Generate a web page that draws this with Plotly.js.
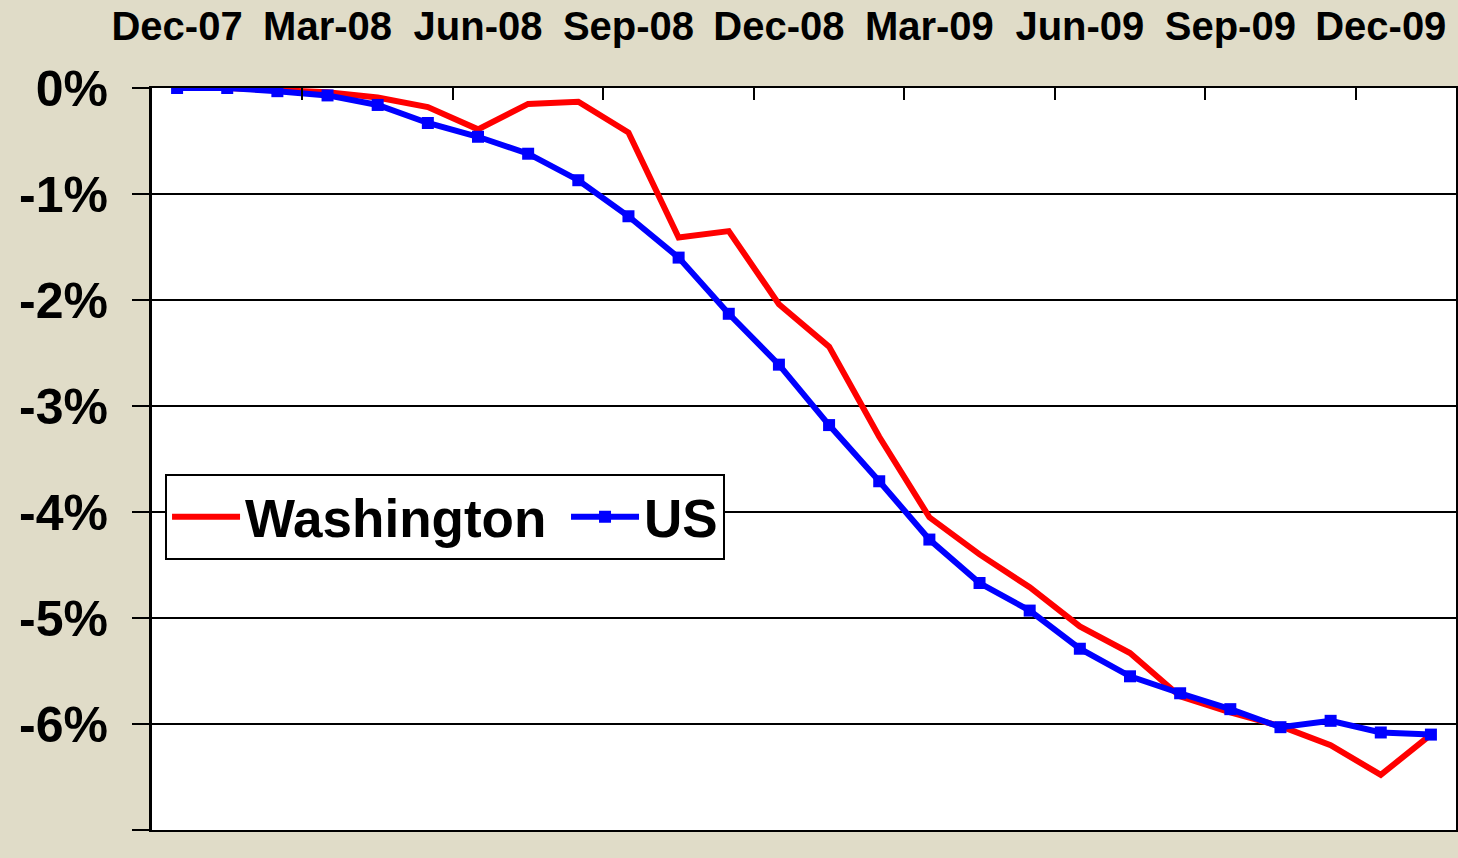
<!DOCTYPE html>
<html>
<head>
<meta charset="utf-8">
<script src="https://cdn.plot.ly/plotly-3.0.1.min.js"></script>
<style>
  html, body { margin: 0; padding: 0; background: #E0DCC8; }
  #chart { width: 1458px; height: 858px; }
</style>
</head>
<body>
<div id="chart"></div>
<script>
const months = ["Dec-07","Jan-08","Feb-08","Mar-08","Apr-08","May-08","Jun-08","Jul-08","Aug-08","Sep-08","Oct-08","Nov-08",
                "Dec-08","Jan-09","Feb-09","Mar-09","Apr-09","May-09","Jun-09","Jul-09","Aug-09","Sep-09","Oct-09","Nov-09",
                "Dec-09","Jan-10"];
const washington = [0, 0, -0.02, -0.04, -0.09, -0.18, -0.39, -0.15, -0.13, -0.42, -1.41, -1.35,
                    -2.04, -2.44, -3.29, -4.05, -4.40, -4.71, -5.08, -5.33, -5.74, -5.89, -6.02, -6.20,
                    -6.48, -6.10];
const us = [0, 0, -0.03, -0.07, -0.16, -0.33, -0.46, -0.62, -0.87, -1.21, -1.60, -2.13,
            -2.61, -3.18, -3.71, -4.26, -4.67, -4.93, -5.29, -5.55, -5.71, -5.86, -6.03, -5.97,
            -6.08, -6.10];
const xTickLabels = ["Dec-07","Mar-08","Jun-08","Sep-08","Dec-08","Mar-09","Jun-09","Sep-09","Dec-09"];
const yTickVals = [0, -1, -2, -3, -4, -5, -6, -7];
const yTickLabels = ["0%", "-1%", "-2%", "-3%", "-4%", "-5%", "-6%", "-7%"];

// month positions on the axis (one slot per month)
const xIndex = months.map((m, i) => i);
const xLabelPos = xTickLabels.map(m => months.indexOf(m));
// tick marks sit on the month boundary just before each labelled month (after the first)
const xBoundaryTicks = xLabelPos.slice(1).map(i => i - 0.5);

const font = "Liberation Sans, Arial, sans-serif";

const traces = [
  {
    x: xIndex, y: washington, name: "Washington\u00a0", type: "scatter", mode: "lines",
    text: months, hoverinfo: "text+y",
    line: { color: "#FF0000", width: 6 }
  },
  {
    x: xIndex, y: us, name: "US", type: "scatter", mode: "lines+markers",
    text: months, hoverinfo: "text+y",
    line: { color: "#0000FF", width: 6 },
    marker: { symbol: "square", size: 12, color: "#0000FF" }
  }
];

const layout = {
  width: 1458, height: 858,
  paper_bgcolor: "#E0DCC8",
  plot_bgcolor: "#FFFFFF",
  margin: { l: 152, r: 2, t: 88, b: 28 },
  showlegend: true,
  legend: {
    orientation: "h",
    x: 0.01, y: 0.48, xanchor: "left", yanchor: "top",
    bgcolor: "#FFFFFF", bordercolor: "#000000", borderwidth: 2,
    itemwidth: 68,
    font: { family: font, size: 53, color: "#000000", weight: "bold" }
  },
  xaxis: {
    type: "linear",
    side: "top",
    range: [-0.5, 25.5],
    tickmode: "array",
    tickvals: xLabelPos,
    ticktext: xTickLabels,
    tickangle: 0,
    ticks: "",
    minor: {
      tickmode: "array",
      tickvals: xBoundaryTicks,
      ticks: "inside", ticklen: 12, tickwidth: 2, tickcolor: "#000000",
      showgrid: false
    },
    showgrid: false, zeroline: false,
    showline: true, linecolor: "#000000", linewidth: 2, mirror: true,
    ticklabelstandoff: 30,
    tickfont: { family: font, size: 40, color: "#000000", weight: "bold" },
    fixedrange: true
  },
  yaxis: {
    range: [-7, 0],
    tickmode: "array",
    tickvals: yTickVals,
    ticktext: yTickLabels,
    ticks: "outside", ticklen: 17, tickwidth: 2, tickcolor: "#000000",
    showgrid: true, gridcolor: "#000000", gridwidth: 1.5,
    zeroline: false,
    showline: true, linecolor: "#000000", linewidth: 3, mirror: true,
    ticklabelstandoff: 14,
    tickfont: { family: font, size: 50, color: "#000000", weight: "bold" },
    fixedrange: true
  }
};

Plotly.newPlot("chart", traces, layout, { displayModeBar: false, staticPlot: true });
</script>
</body>
</html>
